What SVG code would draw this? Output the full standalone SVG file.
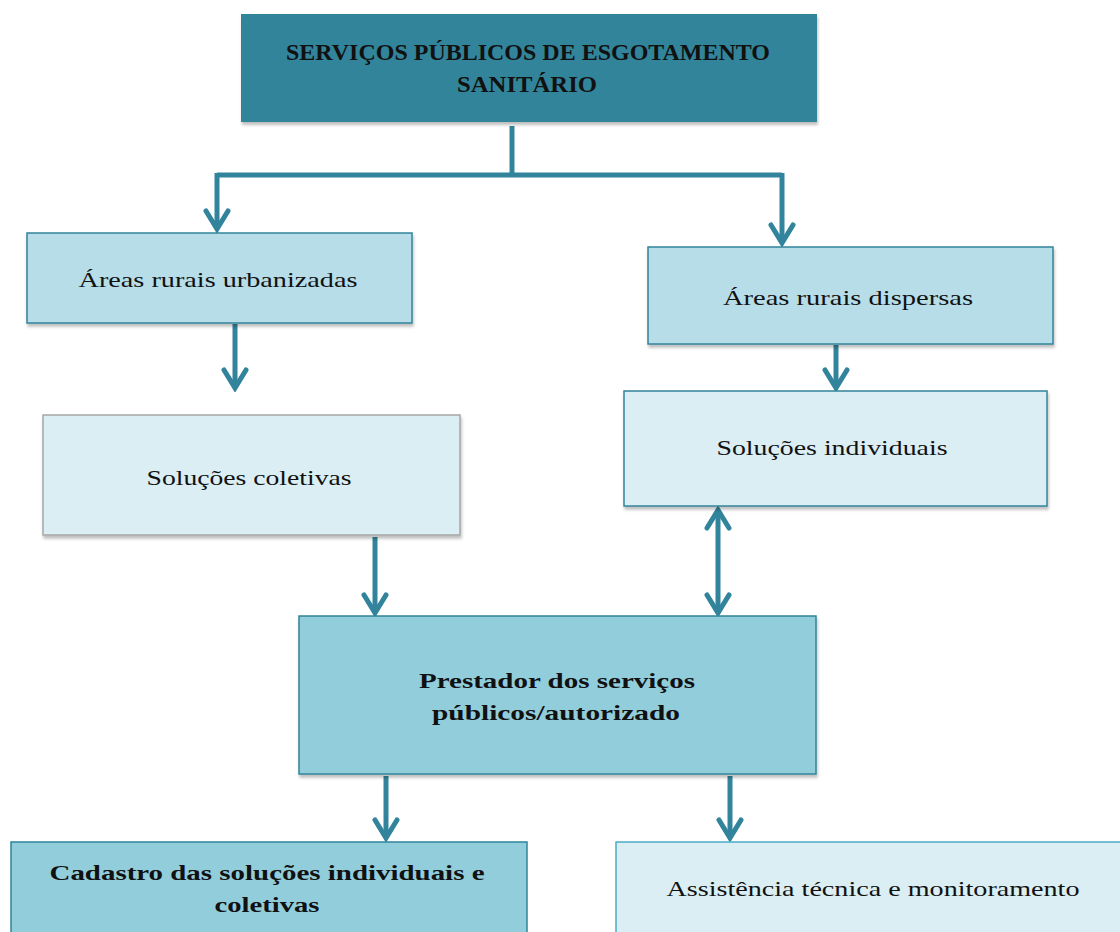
<svg xmlns="http://www.w3.org/2000/svg" width="1120" height="932" viewBox="0 0 1120 932">
<style>
.t{font-family:"Liberation Serif","DejaVu Serif",serif;fill:#111;text-anchor:middle}
.b{font-weight:bold}
.c{fill:none;stroke:#31849B;stroke-width:5}
</style>
<defs>
<filter id="sh" x="-5%" y="-5%" width="110%" height="120%">
<feDropShadow dx="1" dy="3" stdDeviation="1.5" flood-color="#000" flood-opacity="0.25"/>
</filter>
<marker id="ah" viewBox="-24 -16 28 32" refX="0" refY="0" markerWidth="28" markerHeight="32" markerUnits="userSpaceOnUse" orient="auto-start-reverse">
<path d="M-18,-11 L0,0 L-18,11" fill="none" stroke="#31849B" stroke-width="5" stroke-linejoin="miter" stroke-linecap="round"/>
</marker>
</defs>
<rect width="1120" height="932" fill="#fff"/>
<g id="connectors">
<path class="c" d="M512,126 V175"/>
<path class="c" d="M217,175 H782"/>
<path class="c" d="M217,173 V229" marker-end="url(#ah)"/>
<path class="c" d="M782,173 V243" marker-end="url(#ah)"/>
<path class="c" d="M235,324 V388" marker-end="url(#ah)"/>
<path class="c" d="M836,345 V388" marker-end="url(#ah)"/>
<path class="c" d="M375,537 V613" marker-end="url(#ah)"/>
<path class="c" d="M718,510 V613" marker-start="url(#ah)" marker-end="url(#ah)"/>
<path class="c" d="M386,776 V838" marker-end="url(#ah)"/>
<path class="c" d="M730,776 V838" marker-end="url(#ah)"/>
</g>
<g id="n-servicos">
<rect x="241" y="14" width="576" height="108" fill="#31849B" filter="url(#sh)"/>
<text class="t b" x="528" y="60" font-size="24" textLength="484" lengthAdjust="spacingAndGlyphs">SERVIÇOS PÚBLICOS DE ESGOTAMENTO</text>
<text class="t b" x="527" y="92" font-size="24" textLength="140" lengthAdjust="spacingAndGlyphs">SANITÁRIO</text>
</g>
<g id="n-urbanizadas">
<rect x="27" y="233" width="385" height="90" fill="#B7DDE8" stroke="#31849B" stroke-width="1.5" filter="url(#sh)"/>
<text class="t" x="218" y="287" font-size="21" textLength="279" lengthAdjust="spacingAndGlyphs">Áreas rurais urbanizadas</text>
</g>
<g id="n-dispersas">
<rect x="648" y="247" width="405" height="97" fill="#B7DDE8" stroke="#31849B" stroke-width="1.5" filter="url(#sh)"/>
<text class="t" x="848" y="305" font-size="21" textLength="250" lengthAdjust="spacingAndGlyphs">Áreas rurais dispersas</text>
</g>
<g id="n-coletivas">
<rect x="43" y="415" width="417" height="120" fill="#DAEEF3" stroke="#A6A6A6" stroke-width="1.5" filter="url(#sh)"/>
<text class="t" x="249" y="485" font-size="21" textLength="205" lengthAdjust="spacingAndGlyphs">Soluções coletivas</text>
</g>
<g id="n-individuais">
<rect x="624" y="391" width="423" height="115" fill="#DAEEF3" stroke="#31849B" stroke-width="1.5" filter="url(#sh)"/>
<text class="t" x="832" y="455" font-size="21" textLength="231" lengthAdjust="spacingAndGlyphs">Soluções individuais</text>
</g>
<g id="n-prestador">
<rect x="299" y="616" width="517" height="158" fill="#92CDDC" stroke="#31849B" stroke-width="1.5" filter="url(#sh)"/>
<text class="t b" x="557" y="688" font-size="22" textLength="276" lengthAdjust="spacingAndGlyphs">Prestador dos serviços</text>
<text class="t b" x="556" y="720" font-size="22" textLength="248" lengthAdjust="spacingAndGlyphs">públicos/autorizado</text>
</g>
<g id="n-cadastro">
<rect x="11" y="842" width="516" height="100" fill="#92CDDC" stroke="#31849B" stroke-width="1.5"/>
<text class="t b" x="267" y="880" font-size="22" textLength="435" lengthAdjust="spacingAndGlyphs">Cadastro das soluções individuais e</text>
<text class="t b" x="267" y="912" font-size="22" textLength="105" lengthAdjust="spacingAndGlyphs">coletivas</text>
</g>
<g id="n-assistencia">
<rect x="616" y="842" width="520" height="100" fill="#DAEEF3" stroke="#4BACC6" stroke-width="1.5"/>
<text class="t" x="873" y="896" font-size="21" textLength="413" lengthAdjust="spacingAndGlyphs">Assistência técnica e monitoramento</text>
</g>
</svg>
